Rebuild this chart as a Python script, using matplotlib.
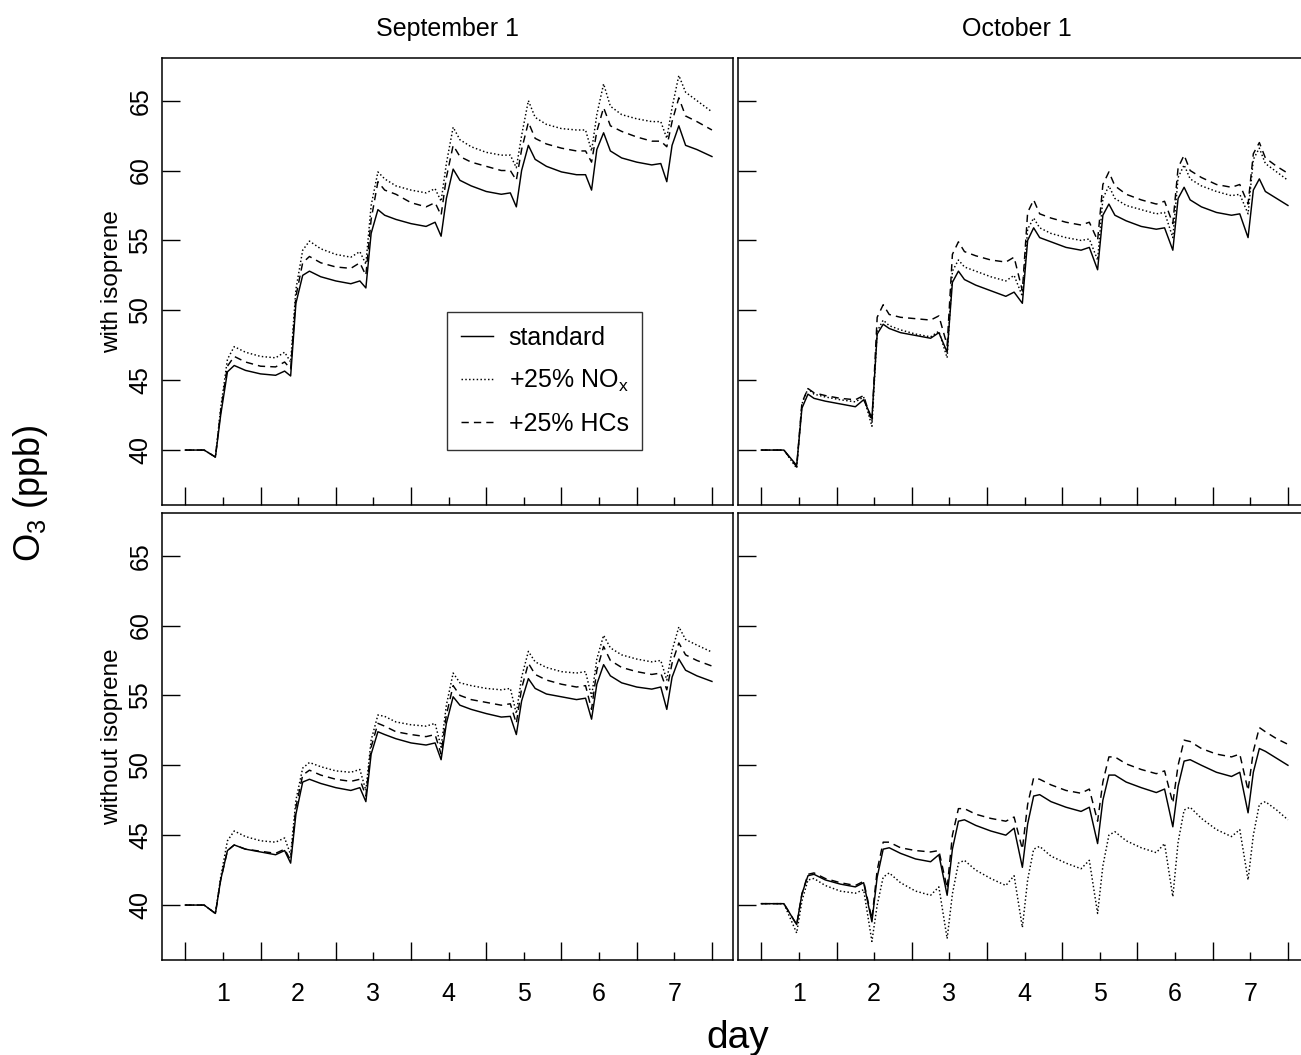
"""Ozone response to +25% NOx and +25% HC emissions, with and without isoprene."""

import matplotlib

matplotlib.use("Agg")
import matplotlib.pyplot as plt

# time axis (days) for the September and October runs
TIME_SEP = [0.5, 0.75,
            0.9, 0.97, 1.06, 1.15, 1.3, 1.5, 1.7, 1.82,
            1.9, 1.97, 2.06, 2.15, 2.3, 2.5, 2.7, 2.82,
            2.9, 2.97, 3.06, 3.15, 3.3, 3.5, 3.7, 3.82,
            3.9, 3.97, 4.06, 4.15, 4.3, 4.5, 4.7, 4.82,
            4.9, 4.97, 5.06, 5.15, 5.3, 5.5, 5.7, 5.82,
            5.9, 5.97, 6.06, 6.15, 6.3, 6.5, 6.7, 6.82,
            6.9, 6.97, 7.06, 7.15, 7.3, 7.5]
TIME_OCT = [0.5, 0.8,
            0.97, 1.04, 1.12, 1.2, 1.35, 1.55, 1.75, 1.86,
            1.97, 2.04, 2.12, 2.2, 2.35, 2.55, 2.75, 2.86,
            2.97, 3.04, 3.12, 3.2, 3.35, 3.55, 3.75, 3.86,
            3.97, 4.04, 4.12, 4.2, 4.35, 4.55, 4.75, 4.86,
            4.97, 5.04, 5.12, 5.2, 5.35, 5.55, 5.75, 5.86,
            5.97, 6.04, 6.12, 6.2, 6.35, 6.55, 6.75, 6.86,
            6.97, 7.04, 7.12, 7.2, 7.35, 7.5]

# September 1, with isoprene
SEP_ISO_STD = [40.0, 40.0,
               39.5, 42.5, 45.6, 46.05, 45.7, 45.45, 45.35, 45.65,
               45.3, 50.5, 52.5, 52.8, 52.4, 52.1, 51.9, 52.1,
               51.6, 55.5, 57.2, 56.8, 56.5, 56.2, 56.0, 56.3,
               55.3, 58.0, 60.1, 59.3, 58.9, 58.5, 58.3, 58.4,
               57.4, 60.0, 61.8, 60.8, 60.3, 59.9, 59.7, 59.7,
               58.6, 61.5, 62.7, 61.4, 60.9, 60.6, 60.4, 60.5,
               59.2, 61.8, 63.2, 61.8, 61.5, 61.0]
SEP_ISO_NOX = [40.0, 40.0,
               39.5, 43.0, 46.5, 47.4, 47.0, 46.7, 46.6, 47.0,
               46.3, 51.5, 54.3, 54.95, 54.4, 54.0, 53.8, 54.2,
               53.3, 57.5, 59.9, 59.4, 58.9, 58.6, 58.4, 58.7,
               57.8, 60.5, 63.1, 62.2, 61.7, 61.3, 61.1, 61.1,
               60.2, 62.5, 65.0, 63.8, 63.3, 63.0, 62.9, 62.9,
               61.4, 64.0, 66.2, 64.6, 64.0, 63.7, 63.5, 63.5,
               62.3, 64.5, 66.8, 65.6, 65.0, 64.2]
SEP_ISO_HCS = [40.0, 40.0,
               39.5, 42.8, 46.0, 46.7, 46.3, 46.0, 45.95, 46.3,
               45.8, 51.0, 53.4, 53.85, 53.4, 53.1, 53.0, 53.4,
               52.5, 56.5, 59.2, 58.6, 58.3, 57.7, 57.4, 57.7,
               56.8, 59.5, 61.8, 61.0, 60.6, 60.3, 60.0, 60.0,
               59.3, 61.5, 63.45, 62.3, 61.9, 61.6, 61.4, 61.4,
               60.6, 62.8, 64.5, 63.2, 62.8, 62.4, 62.1, 62.1,
               61.7, 63.5, 65.2, 63.9, 63.5, 62.9]

# October 1, with isoprene
OCT_ISO_STD = [40.0, 40.0,
               38.9, 43.0, 44.0, 43.7, 43.5, 43.3, 43.1, 43.6,
               42.3, 48.3, 49.0, 48.7, 48.4, 48.2, 48.0, 48.4,
               47.0, 52.0, 52.8, 52.2, 51.8, 51.4, 51.0, 51.3,
               50.5, 55.0, 55.9, 55.2, 54.9, 54.5, 54.3, 54.5,
               52.9, 56.8, 57.6, 56.8, 56.4, 56.0, 55.8, 55.9,
               54.3, 58.0, 58.8, 57.9, 57.4, 57.0, 56.8, 56.9,
               55.2, 58.6, 59.4, 58.5, 58.0, 57.5]
OCT_ISO_NOX = [40.0, 40.0,
               38.7, 43.3, 44.4, 44.0, 43.8, 43.6, 43.45, 43.8,
               41.7, 48.5, 49.3, 48.9, 48.6, 48.3, 48.1, 48.5,
               46.6, 52.8, 53.6, 53.1, 52.8, 52.4, 52.1, 52.5,
               51.0, 55.8, 56.6, 55.9, 55.5, 55.2, 55.0, 55.1,
               53.6, 58.0, 58.9, 58.0, 57.5, 57.2, 56.9, 57.0,
               55.2, 59.5, 60.4, 59.4, 58.9, 58.5, 58.2, 58.3,
               56.9, 60.8, 61.6, 60.5, 59.9, 59.3]
OCT_ISO_HCS = [40.0, 40.0,
               38.8, 43.4, 44.4, 44.1, 43.9, 43.7, 43.6, 43.9,
               42.0, 49.5, 50.4, 49.7, 49.5, 49.4, 49.3, 49.6,
               47.5, 54.0, 54.9, 54.2, 53.9, 53.6, 53.45, 53.8,
               51.4, 57.0, 57.9, 56.9, 56.6, 56.3, 56.1, 56.3,
               55.0, 59.0, 59.9, 58.9, 58.3, 57.9, 57.6, 57.8,
               56.2, 60.2, 61.1, 60.0, 59.5, 59.0, 58.8, 59.0,
               57.6, 61.2, 62.0, 60.9, 60.3, 59.8]

# September 1, without isoprene
SEP_NOISO_STD = [40.0, 40.0,
                 39.4, 41.8, 43.9, 44.3, 44.0, 43.8, 43.6, 43.9,
                 43.0, 46.5, 48.8, 49.0, 48.7, 48.4, 48.2, 48.4,
                 47.4, 50.8, 52.4, 52.2, 51.9, 51.6, 51.45, 51.6,
                 50.4, 53.0, 54.9, 54.3, 54.0, 53.7, 53.45, 53.5,
                 52.2, 54.6, 56.2, 55.5, 55.1, 54.9, 54.7, 54.8,
                 53.3, 55.8, 57.2, 56.4, 55.9, 55.6, 55.45, 55.6,
                 54.0, 56.3, 57.6, 56.8, 56.4, 56.0]
SEP_NOISO_NOX = [40.0, 40.0,
                 39.4, 42.0, 44.6, 45.3, 44.9, 44.6, 44.5, 44.8,
                 43.6, 47.5, 49.8, 50.2, 49.9, 49.6, 49.5, 49.7,
                 48.2, 51.8, 53.6, 53.5, 53.1, 52.9, 52.8, 53.0,
                 51.3, 54.3, 56.6, 55.9, 55.7, 55.5, 55.4, 55.5,
                 53.7, 56.3, 58.15, 57.4, 57.0, 56.7, 56.6, 56.7,
                 54.9, 57.6, 59.3, 58.4, 57.9, 57.6, 57.4, 57.5,
                 56.1, 58.2, 59.9, 59.0, 58.6, 58.1]
SEP_NOISO_HCS = [40.0, 40.0,
                 39.4, 41.8, 43.9, 44.3, 44.0, 43.85, 43.7, 44.0,
                 43.2, 47.0, 49.3, 49.65, 49.3, 49.0, 48.85, 49.0,
                 47.8, 51.3, 53.0, 52.8, 52.4, 52.2, 52.05, 52.2,
                 50.8, 53.6, 55.7, 55.0, 54.7, 54.5, 54.3, 54.4,
                 53.0, 55.5, 57.3, 56.5, 56.1, 55.8, 55.6, 55.7,
                 54.0, 56.8, 58.5, 57.5, 57.0, 56.7, 56.5, 56.6,
                 55.4, 57.3, 58.75, 57.9, 57.5, 57.1]

# October 1, without isoprene
OCT_NOISO_STD = [40.1, 40.1,
                 38.6, 40.8, 42.1, 42.2, 41.8, 41.5, 41.3, 41.6,
                 38.8, 42.0, 44.0, 44.1, 43.7, 43.3, 43.1, 43.6,
                 40.7, 44.0, 46.0, 46.1, 45.7, 45.3, 45.0, 45.5,
                 42.7, 45.8, 47.8, 47.9, 47.4, 47.0, 46.7, 47.0,
                 44.4, 47.5, 49.3, 49.3, 48.8, 48.4, 48.05, 48.3,
                 45.6, 48.5, 50.3, 50.4, 50.0, 49.5, 49.2, 49.5,
                 46.6, 49.5, 51.2, 51.0, 50.5, 50.0]
OCT_NOISO_NOX = [40.1, 40.1,
                 38.0, 40.3, 41.8, 41.9, 41.4, 41.0, 40.85, 41.1,
                 37.4, 40.0, 42.0, 42.3, 41.6, 41.0, 40.7, 41.3,
                 37.6, 40.8, 43.0, 43.2, 42.5, 41.9, 41.4, 42.1,
                 38.4, 41.8, 44.0, 44.2, 43.5, 43.0, 42.6, 43.2,
                 39.4, 42.8, 45.0, 45.25, 44.6, 44.1, 43.75, 44.4,
                 40.6, 44.5, 46.8, 47.0, 46.2, 45.4, 44.9, 45.4,
                 41.8, 45.0, 47.2, 47.4, 46.8, 46.1]
OCT_NOISO_HCS = [40.1, 40.1,
                 38.6, 40.8, 42.2, 42.3, 41.9, 41.6, 41.4, 41.7,
                 39.0, 42.5, 44.5, 44.5, 44.1, 43.9, 43.8, 43.9,
                 41.2, 45.0, 46.9, 46.9, 46.5, 46.2, 46.0, 46.3,
                 44.0, 47.2, 49.1, 49.0, 48.6, 48.2, 48.0, 48.3,
                 46.0, 48.8, 50.6, 50.6, 50.1, 49.7, 49.4, 49.6,
                 47.3, 50.0, 51.8, 51.7, 51.2, 50.8, 50.6, 50.8,
                 48.2, 51.0, 52.7, 52.4, 51.9, 51.5]

COLUMN_TITLES = ["September 1", "October 1"]
ROW_LABELS = ["with isoprene", "without isoprene"]
SERIES_LABELS = ["standard", "+25% NO$_\\mathrm{x}$", "+25% HCs"]
DAY_TICKS = [1, 2, 3, 4, 5, 6, 7]
HALF_DAY_TICKS = [0.5, 1.5, 2.5, 3.5, 4.5, 5.5, 6.5, 7.5]
O3_TICKS = [40, 45, 50, 55, 60, 65]

PANELS = {
    (0, 0): (TIME_SEP, SEP_ISO_STD, SEP_ISO_NOX, SEP_ISO_HCS),
    (0, 1): (TIME_OCT, OCT_ISO_STD, OCT_ISO_NOX, OCT_ISO_HCS),
    (1, 0): (TIME_SEP, SEP_NOISO_STD, SEP_NOISO_NOX, SEP_NOISO_HCS),
    (1, 1): (TIME_OCT, OCT_NOISO_STD, OCT_NOISO_NOX, OCT_NOISO_HCS),
}

LINESTYLES = ["-", (0, (1.0, 1.6)), (0, (5.0, 3.5))]

W, H = 1301, 1055
COL_X = [162, 738]
ROW_TOP = [58, 513]
PANEL_W = 571
PANEL_H = 447
TITLE_X = [0.5, 0.489]


def main():
    plt.rcParams.update({
        "font.family": ["Liberation Sans", "DejaVu Sans"],
        "mathtext.fontset": "custom",
        "mathtext.rm": "Liberation Sans",
        "mathtext.it": "Liberation Sans:italic",
        "mathtext.bf": "Liberation Sans:bold",
        "axes.linewidth": 1.1,
    })
    fig = plt.figure(figsize=(W / 100, H / 100), dpi=100)

    for (row, col), (t, std, nox, hcs) in PANELS.items():
        rect = [COL_X[col] / W, 1 - (ROW_TOP[row] + PANEL_H) / H,
                PANEL_W / W, PANEL_H / H]
        ax = fig.add_axes(rect)
        for vals, ls, lab in zip((std, nox, hcs), LINESTYLES, SERIES_LABELS):
            ax.plot(t, vals, color="black", linestyle=ls, linewidth=1.05,
                    label=lab)

        ax.set_xlim(0.19, 7.78)
        ax.set_ylim(36.07, 68.05)
        ax.set_xticks(DAY_TICKS)
        ax.set_xticks(HALF_DAY_TICKS, minor=True)
        ax.set_yticks(O3_TICKS)
        ax.tick_params(axis="x", which="major", direction="in", length=5.8,
                       width=1.0, labelsize=18, pad=16,
                       labelbottom=(row == 1))
        ax.tick_params(axis="x", which="minor", direction="in", length=13,
                       width=1.0)
        ax.tick_params(axis="y", which="major", direction="in", length=13,
                       width=1.0, labelsize=18, pad=7,
                       labelleft=(col == 0))
        for lbl in ax.get_yticklabels():
            lbl.set_rotation(90)
            lbl.set_va("center")

        if row == 0:
            ax.set_title(COLUMN_TITLES[col], fontsize=18, pad=16,
                         x=TITLE_X[col])
        if row == 0 and col == 0:
            leg = ax.legend(loc="upper left", bbox_to_anchor=(0.499, 0.432),
                            borderaxespad=0.0, fontsize=18, frameon=True,
                            fancybox=False, edgecolor="black",
                            handlelength=1.28, handletextpad=0.64,
                            labelspacing=0.72, borderpad=0.55)
            leg.get_frame().set_linewidth(1.0)

    for row, label in enumerate(ROW_LABELS):
        yc = ROW_TOP[row] + PANEL_H / 2
        fig.text(112 / W, 1 - yc / H, label, rotation=90, fontsize=17.5,
                 ha="center", va="center")

    fig.text(30 / W, 1 - 493 / H, "O$_3$ (ppb)", rotation=90, fontsize=26,
             ha="center", va="center")
    fig.text(738 / W, 1 - 1038 / H, "day", fontsize=28, ha="center",
             va="center")

    fig.savefig("out.png", dpi=100)


if __name__ == "__main__":
    main()
